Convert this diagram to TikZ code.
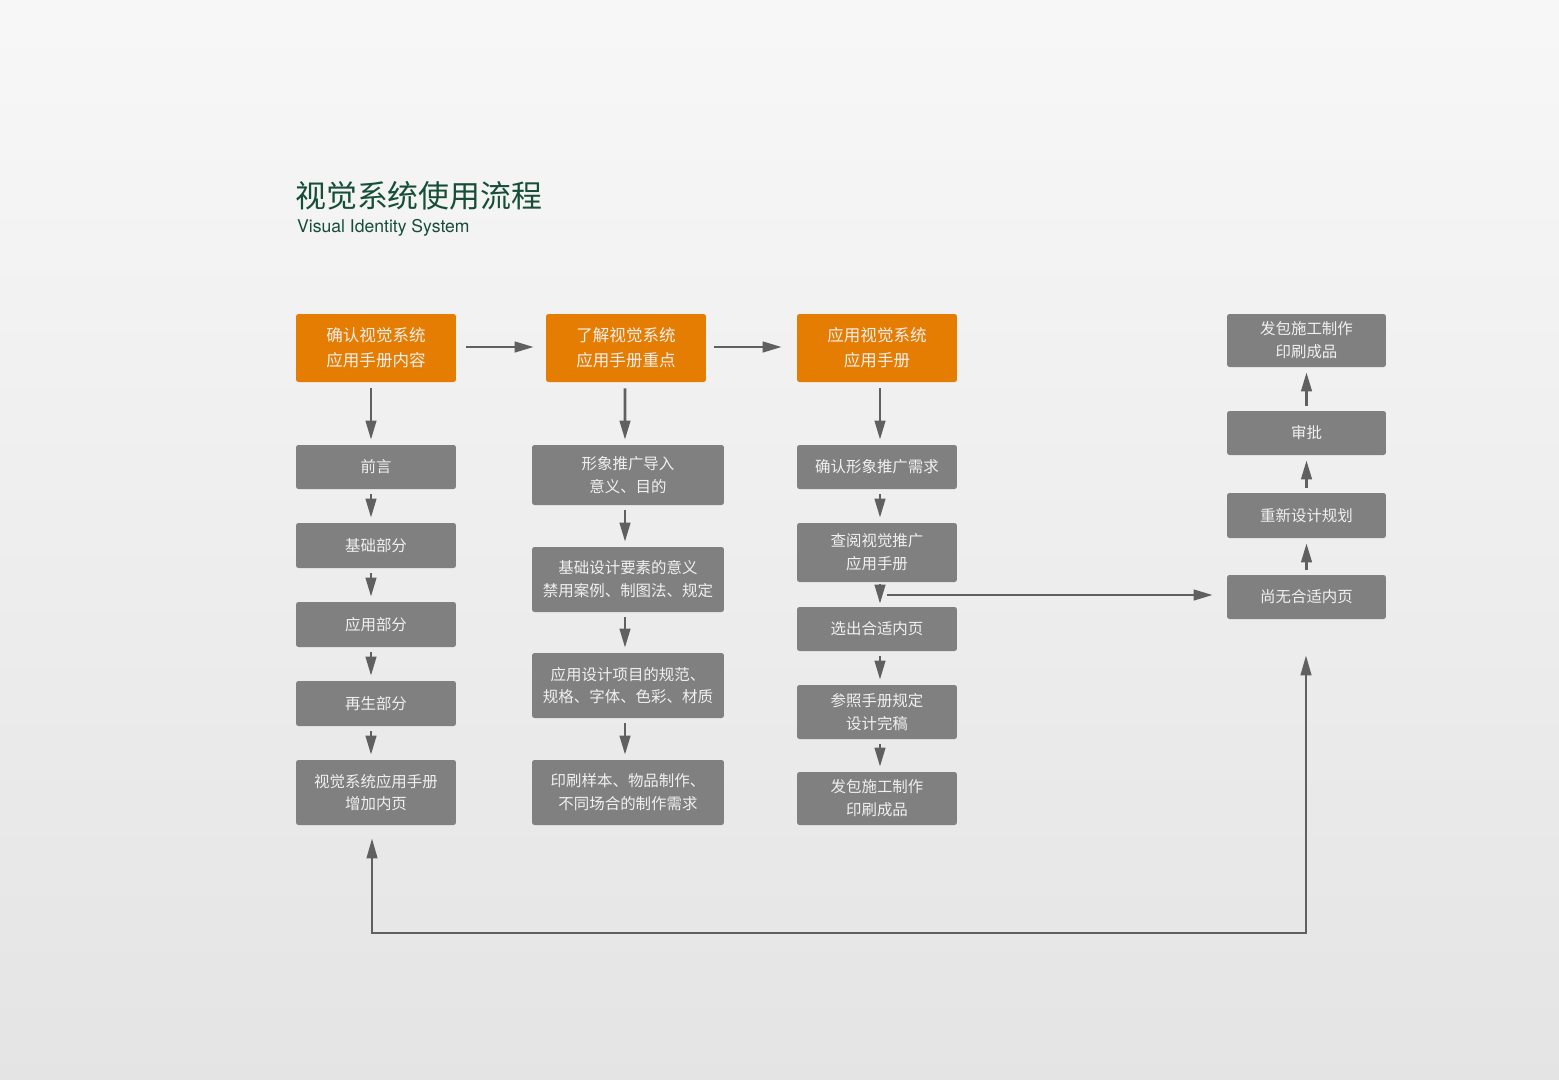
\documentclass[tikz,border=0pt]{standalone}
\usepackage{fontspec}
\setmainfont{Liberation Sans}
\newfontfamily\cjk{Noto Sans CJK SC}
\newfontfamily\heros{TeX Gyre Heros}
\usepackage{tikz}
\usetikzlibrary{arrows.meta}
\definecolor{headorange}{RGB}{229,125,2}
\definecolor{boxgray}{RGB}{128,128,128}
\definecolor{arrowgray}{RGB}{96,96,96}
\definecolor{titlegreen}{RGB}{22,78,56}
\definecolor{boxtext}{RGB}{240,240,240}
\tikzset{
  headbox/.style={rectangle,rounded corners=0.05cm,fill=headorange,text=boxtext,align=center,
    minimum width=3.2cm,minimum height=1.36cm,inner sep=0pt,font=\cjk\fontsize{9.4pt}{14.2pt}\selectfont},
  stepbox/.style={rectangle,rounded corners=0.05cm,fill=boxgray,text=boxtext,align=center,
    minimum width=3.2cm,inner sep=0pt,font=\cjk\fontsize{8.8pt}{13pt}\selectfont},
  flow/.style={draw=arrowgray,line width=1.5pt,-{Triangle[length=0.38cm,width=0.21cm]},
    shorten <=0.1cm,shorten >=0.1cm},
  loopline/.style={draw=arrowgray,line width=1.5pt,
    {Triangle[length=0.4cm,width=0.21cm]}-{Triangle[length=0.4cm,width=0.21cm]}}
}
\begin{document}
\begin{tikzpicture}[x=0.02cm,y=-0.02cm]
\useasboundingbox (0,0) rectangle (1559,1079);
\shade[top color=gray!6,bottom color=gray!21] (0,0) rectangle (1559,1079);

% title
\node[font=\cjk\fontsize{17.6pt}{20pt}\selectfont,text=titlegreen,anchor=west] (title) at (289,196) {视觉系统使用流程};
\node[font=\heros\fontsize{10pt}{12pt}\selectfont,text=titlegreen,anchor=west] (subtitle) at (291,228) {Visual Identity System};

% column 1
\node[headbox] (c1head) at (376,348) {确认视觉系统\\应用手册内容};
\node[stepbox,minimum height=0.88cm] (preface) at (376,467) {前言};
\node[stepbox,minimum height=0.9cm] (basic) at (376,545.5) {基础部分};
\node[stepbox,minimum height=0.9cm] (applic) at (376,624.5) {应用部分};
\node[stepbox,minimum height=0.9cm] (regen) at (376,703.5) {再生部分};
\node[stepbox,minimum height=1.3cm] (addpage) at (376,792.5) {视觉系统应用手册\\增加内页};

% column 2
\node[headbox] (c2head) at (626,348) {了解视觉系统\\应用手册重点};
\node[stepbox,minimum width=3.84cm,minimum height=1.2cm] (intro) at (628,475) {形象推广导入\\意义、目的};
\node[stepbox,minimum width=3.84cm,minimum height=1.3cm] (design) at (628,579.5) {基础设计要素的意义\\禁用案例、制图法、规定};
\node[stepbox,minimum width=3.84cm,minimum height=1.3cm] (items) at (628,685.5) {应用设计项目的规范、\\规格、字体、色彩、材质};
\node[stepbox,minimum width=3.84cm,minimum height=1.3cm] (print) at (628,792.5) {印刷样本、物品制作、\\不同场合的制作需求};

% column 3
\node[headbox] (c3head) at (877,348) {应用视觉系统\\应用手册};
\node[stepbox,minimum height=0.88cm] (need) at (877,467) {确认形象推广需求};
\node[stepbox,minimum height=1.18cm] (consult) at (877,552.5) {查阅视觉推广\\应用手册};
\node[stepbox,minimum height=0.88cm] (pick) at (877,629) {选出合适内页};
\node[stepbox,minimum height=1.08cm] (finish) at (877,712) {参照手册规定\\设计完稿};
\node[stepbox,minimum height=1.06cm] (produce) at (877,798.5) {发包施工制作\\印刷成品};

% column 4
\node[stepbox,minimum width=3.18cm,minimum height=1.06cm] (c4print) at (1306.5,340.5) {发包施工制作\\印刷成品};
\node[stepbox,minimum width=3.18cm,minimum height=0.88cm] (approve) at (1306.5,433) {审批};
\node[stepbox,minimum width=3.18cm,minimum height=0.9cm] (redesign) at (1306.5,515.5) {重新设计规划};
\node[stepbox,minimum width=3.18cm,minimum height=0.88cm] (nofit) at (1306.5,597) {尚无合适内页};

% across the heads
\draw[flow,shorten <=0.2cm,shorten >=0.24cm] ([yshift=0.02cm]c1head.east) -- ([yshift=0.02cm]c2head.west);
\draw[flow,shorten <=0.16cm,shorten >=0.3cm] ([yshift=0.02cm]c2head.east) -- ([yshift=0.02cm]c3head.west);

% down column 1
\draw[flow,shorten <=0.12cm] ([xshift=-0.1cm]c1head.south) -- ([xshift=-0.1cm]preface.north);
\draw[flow] ([xshift=-0.1cm]preface.south) -- ([xshift=-0.1cm]basic.north);
\draw[flow] ([xshift=-0.1cm]basic.south) -- ([xshift=-0.1cm]applic.north);
\draw[flow] ([xshift=-0.1cm]applic.south) -- ([xshift=-0.1cm]regen.north);
\draw[flow] ([xshift=-0.1cm]regen.south) -- ([xshift=-0.1cm]addpage.north);

% down column 2
\draw[flow,shorten <=0.12cm] ([xshift=-0.02cm]c2head.south) -- ([xshift=-0.06cm]intro.north);
\draw[flow] ([xshift=-0.06cm]intro.south) -- ([xshift=-0.06cm]design.north);
\draw[flow] ([xshift=-0.06cm]design.south) -- ([xshift=-0.06cm]items.north);
\draw[flow] ([xshift=-0.06cm]items.south) -- ([xshift=-0.06cm]print.north);

% down column 3
\draw[flow,shorten <=0.12cm] ([xshift=0.06cm]c3head.south) -- ([xshift=0.06cm]need.north);
\draw[flow] ([xshift=0.06cm]need.south) -- ([xshift=0.06cm]consult.north);
\draw[flow,shorten <=0.04cm,shorten >=0.06cm] ([xshift=0.06cm]consult.south) -- ([xshift=0.06cm]pick.north);
\draw[flow] ([xshift=0.06cm]pick.south) -- ([xshift=0.06cm]finish.north);
\draw[flow] ([xshift=0.06cm]finish.south) -- ([xshift=0.06cm]produce.north);

% branch to column 4
\coordinate (branch) at (887,595);
\draw[flow,shorten <=0cm,shorten >=0.28cm] (branch) -- (branch -| nofit.west);

% up column 4
\draw[flow] (nofit.north) -- (redesign.south);
\draw[flow] (redesign.north) -- (approve.south);
\draw[flow] (approve.north) -- (c4print.south);

% loop back along the bottom
\coordinate (bottom) at (0,933);
\draw[loopline] ([xshift=-0.08cm,yshift=-0.26cm]addpage.south) -- ([xshift=-0.08cm]addpage.south |- bottom)
  -| ([xshift=-0.01cm,yshift=-0.72cm]nofit.south);

\end{tikzpicture}
\end{document}
